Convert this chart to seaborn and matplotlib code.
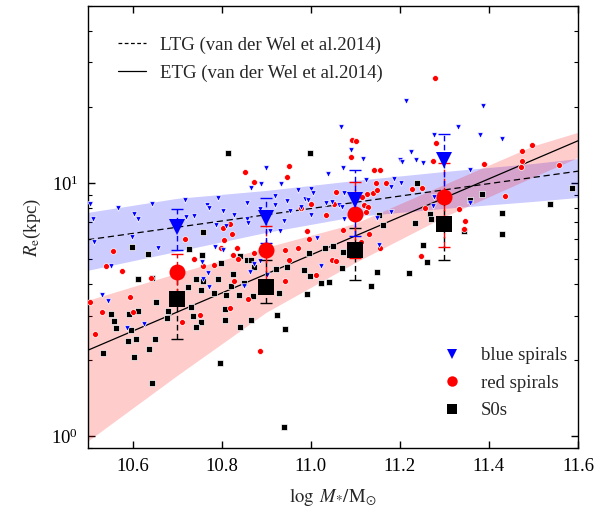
import numpy as np
import pandas as pd
import matplotlib
matplotlib.use("Agg")
import matplotlib.pyplot as plt
from matplotlib.lines import Line2D
from matplotlib.ticker import LogLocator, FixedLocator, NullFormatter
import seaborn as sns

# ---------------------------------------------------------------- data
# individual galaxies: log stellar mass and log effective radius (kpc)
blue_logm = [10.899, 10.888, 10.867, 10.934, 10.972, 11.001, 11.005, 11.038, 10.947, 10.919,
             10.919, 10.856, 10.792, 10.718, 10.644, 10.567, 10.504, 10.767, 10.772, 10.988,
             10.993, 11.035, 11.048, 11.214, 11.386, 11.069, 11.331, 11.276, 11.381, 11.429,
             11.091, 11.118, 11.225, 11.200, 11.204, 11.237, 11.251, 11.072, 11.358, 11.124,
             11.188, 11.180, 11.203, 11.075, 11.276, 11.274, 11.358, 11.063, 10.604, 10.612,
             10.511, 10.513, 10.599, 10.657, 10.720, 10.737, 10.802, 10.787, 10.809, 10.828,
             10.858, 10.859, 10.887, 10.908, 10.931, 10.941, 10.953, 10.979, 11.001, 11.014,
             10.785, 10.802, 10.551, 10.755, 10.770, 10.759, 10.873, 10.886, 10.864, 10.851,
             10.902, 11.022, 10.531, 10.771, 10.545, 10.588, 10.625, 11.071, 11.148, 11.180,
             11.153, 11.075]
blue_logre = [1.061, 0.995, 0.980, 0.995, 0.971, 0.978, 0.961, 1.038, 0.928, 0.948,
              0.915, 0.921, 0.943, 0.932, 0.919, 0.900, 0.919, 0.915, 0.900, 0.939,
              0.932, 0.923, 0.925, 1.325, 1.305, 1.221, 1.223, 1.192, 1.192, 1.173,
              1.132, 1.096, 1.124, 1.093, 1.082, 1.092, 1.078, 1.059, 1.053, 1.011,
              1.015, 0.984, 0.999, 0.961, 0.945, 0.911, 0.921, 0.912, 0.879, 0.857,
              0.857, 0.768, 0.787, 0.744, 0.866, 0.870, 0.889, 0.833, 0.831, 0.873,
              0.860, 0.844, 0.899, 0.810, 0.811, 0.849, 0.892, 0.905, 0.876, 0.783,
              0.748, 0.735, 0.672, 0.689, 0.645, 0.621, 0.682, 0.693, 0.649, 0.592,
              0.636, 0.673, 0.560, 0.588, 0.534, 0.430, 0.443, 0.905, 0.862, 0.886,
              0.755, 0.860]

red_logm = [10.852, 10.873, 10.952, 10.946, 11.057, 11.000, 10.978, 11.053, 11.093, 11.101,
            11.282, 11.090, 11.142, 11.155, 11.274, 11.388, 11.474, 11.496, 11.474, 11.473,
            11.557, 11.147, 11.168, 11.127, 11.139, 11.149, 11.227, 11.250, 11.114, 11.119,
            11.129, 11.437, 11.332, 10.718, 10.804, 10.819, 10.824, 10.806, 10.798, 10.834,
            10.826, 10.783, 10.739, 10.759, 10.556, 10.576, 10.540, 10.642, 10.942, 10.952,
            10.972, 10.992, 10.996, 11.034, 11.048, 11.057, 11.012, 10.943, 10.828, 10.859,
            10.818, 10.752, 10.712, 10.601, 10.504, 10.531, 10.595, 10.837, 10.873, 10.515,
            10.886, 11.347, 11.345, 11.248, 11.155, 11.131, 11.113, 11.072, 11.124, 11.257,
            11.279]
red_logre = [1.045, 1.004, 1.067, 1.026, 0.966, 0.916, 0.903, 0.916, 1.172, 1.168,
             1.158, 1.105, 1.050, 1.050, 1.086, 1.075, 1.125, 1.150, 1.087, 1.063,
             1.070, 0.999, 1.002, 0.959, 0.962, 0.971, 0.976, 0.979, 0.945, 0.912,
             0.905, 0.948, 0.896, 0.781, 0.823, 0.840, 0.801, 0.774, 0.742, 0.744,
             0.715, 0.676, 0.702, 0.673, 0.731, 0.653, 0.671, 0.627, 0.735, 0.698,
             0.744, 0.811, 0.781, 0.873, 0.695, 0.692, 0.636, 0.613, 0.614, 0.541,
             0.508, 0.479, 0.452, 0.492, 0.531, 0.492, 0.551, 0.702, 0.726, 0.404,
             0.337, 0.850, 0.820, 0.712, 0.744, 0.798, 0.768, 0.816, 0.886, 0.902,
             1.414]

s0_logm = [10.815, 10.998, 11.238, 11.384, 11.358, 11.587, 11.537, 10.598, 10.634, 10.759,
           10.727, 10.757, 10.612, 10.644, 10.724, 10.742, 10.759, 10.791, 10.798, 10.826,
           10.841, 10.856, 10.867, 10.873, 10.820, 10.809, 10.838, 10.871, 10.783, 10.753,
           10.731, 10.735, 10.808, 10.850, 10.923, 10.946, 10.986, 10.996, 11.031, 11.050,
           10.999, 11.022, 11.040, 10.992, 10.929, 10.613, 10.591, 10.552, 10.558, 10.653,
           10.680, 10.677, 10.753, 10.807, 10.865, 10.925, 10.563, 10.597, 10.589, 10.607,
           10.650, 10.636, 10.534, 10.603, 10.644, 10.742, 10.841, 10.943, 10.796, 10.940,
           11.154, 11.162, 11.235, 11.267, 11.271, 11.430, 11.430, 11.344, 11.251, 11.262,
           11.149, 11.220, 11.135, 11.071, 11.073]
s0_logre = [1.120, 1.118, 1.000, 0.958, 0.932, 0.980, 0.919, 0.749, 0.722, 0.807,
            0.739, 0.718, 0.623, 0.626, 0.590, 0.623, 0.613, 0.623, 0.686, 0.643,
            0.712, 0.698, 0.698, 0.667, 0.592, 0.558, 0.558, 0.555, 0.568, 0.577,
            0.511, 0.476, 0.505, 0.604, 0.660, 0.669, 0.656, 0.724, 0.744, 0.751,
            0.634, 0.604, 0.608, 0.564, 0.568, 0.495, 0.485, 0.485, 0.456, 0.531,
            0.496, 0.466, 0.452, 0.459, 0.459, 0.479, 0.430, 0.420, 0.378, 0.383,
            0.384, 0.344, 0.330, 0.312, 0.210, 0.431, 0.433, 0.424, 0.288, 0.037,
            0.876, 0.836, 0.842, 0.877, 0.860, 0.882, 0.798, 0.811, 0.757, 0.689,
            0.649, 0.645, 0.593, 0.663, 0.728]

# binned medians with error bars (kpc)
bin_logm = [10.7, 10.9, 11.1, 11.3]
blue_med = [6.69, 7.28, 8.55, 12.29]
blue_err_lo = [1.24, 1.48, 2.37, 3.30]
blue_err_hi = [1.24, 1.48, 2.74, 3.30]
red_med = [4.46, 5.43, 7.57, 8.81]
red_err_lo = [0.81, 1.32, 2.52, 3.20]
red_err_hi = [0.81, 1.32, 2.52, 3.20]
s0_med = [3.50, 3.89, 5.43, 6.92]
s0_err_lo = [1.08, 0.54, 1.29, 1.96]
s0_err_hi = [1.08, 1.07, 1.22, 1.96]

# van der Wel et al. (2014) size-mass relations and their uncertainty bands
rel_logm = [10.5, 11.6]
ltg_re = [5.98, 11.15]
etg_re = [2.19, 14.7]
band_logm = [10.5, 10.7, 10.9, 11.1, 11.3, 11.5, 11.6]
ltg_band_lo = [4.53, 5.38, 6.39, 7.39, 7.95, 8.47, 8.78]
ltg_band_hi = [7.67, 8.71, 9.36, 10.25, 11.12, 11.96, 12.51]
etg_band_lo = [0.96, 1.74, 3.09, 4.86, 7.37, 10.59, 12.63]
etg_band_hi = [3.45, 4.41, 5.58, 6.94, 9.89, 14.05, 15.88]

x_ticks = [10.6, 10.8, 11.0, 11.2, 11.4, 11.6]
x_tick_labels = ["10.6", "10.8", "11.0", "11.2", "11.4", "11.6"]

# ---------------------------------------------------------------- style
sns.set_theme(style="ticks")
plt.rcParams["font.family"] = ["Liberation Serif", "DejaVu Serif"]
plt.rcParams["mathtext.fontset"] = "stix"
plt.rcParams["axes.linewidth"] = 1.0
FS = 13.5

BLUE = "#0000ff"
RED = "#ff0000"
BLACK = "#000000"

fig = plt.figure(figsize=(6.11, 5.11), dpi=100)
ax = fig.add_axes([0.144, 0.1233, 0.802, 0.8647])

# uncertainty bands
ax.fill_between(band_logm, ltg_band_lo, ltg_band_hi, color=BLUE, alpha=0.2, lw=0, zorder=1)
ax.fill_between(band_logm, etg_band_lo, etg_band_hi, color=RED, alpha=0.2, lw=0, zorder=1)

# relations
ax.plot(rel_logm, ltg_re, color=BLACK, lw=0.9, ls=(0, (5, 3)), zorder=2)
ax.plot(rel_logm, etg_re, color=BLACK, lw=0.9, ls="-", zorder=2)

# individual galaxies
pts = pd.concat([
    pd.DataFrame({"logm": blue_logm, "re": 10 ** np.array(blue_logre), "type": "blue spirals"}),
    pd.DataFrame({"logm": red_logm, "re": 10 ** np.array(red_logre), "type": "red spirals"}),
    pd.DataFrame({"logm": s0_logm, "re": 10 ** np.array(s0_logre), "type": "S0s"}),
], ignore_index=True)
palette = {"blue spirals": BLUE, "red spirals": RED, "S0s": BLACK}
markers = {"blue spirals": "v", "red spirals": "o", "S0s": "s"}
sizes = {"blue spirals": 16, "red spirals": 18, "S0s": 16}
for kind in ["S0s", "red spirals", "blue spirals"]:
    sub = pts[pts["type"] == kind]
    sns.scatterplot(data=sub, x="logm", y="re", color=palette[kind], marker=markers[kind],
                    s=sizes[kind], edgecolor="white", linewidth=0.5, ax=ax, legend=False,
                    zorder=3)

# binned medians with error bars
def binned(med, lo, hi, color, marker):
    eb = ax.errorbar(bin_logm, med, yerr=[lo, hi], fmt="none", ecolor=color,
                     elinewidth=1.0, capsize=4.6, capthick=1.0, zorder=4)
    for ln in eb[2]:
        ln.set_linestyle((0, (4, 2.5)))
    ax.plot(bin_logm, med, ls="none", marker=marker, ms=11.5, color=color,
            markeredgewidth=0, zorder=5)

binned(s0_med, s0_err_lo, s0_err_hi, BLACK, "s")
binned(red_med, red_err_lo, red_err_hi, RED, "o")
binned(blue_med, blue_err_lo, blue_err_hi, BLUE, "v")

# ---------------------------------------------------------------- axes
ax.set_yscale("log")
ax.set_xlim(10.5, 11.6)
ax.set_ylim(0.9, 50)
ax.xaxis.set_major_locator(FixedLocator(x_ticks))
ax.set_xticklabels(x_tick_labels)
ax.yaxis.set_major_locator(LogLocator(base=10, numticks=10))
ax.yaxis.set_minor_locator(LogLocator(base=10, subs=np.arange(2, 10), numticks=20))
ax.yaxis.set_minor_formatter(NullFormatter())
ax.tick_params(axis="both", which="both", direction="in", top=True, right=True,
               labelsize=FS, colors=BLACK)
ax.tick_params(axis="both", which="major", length=5, width=1.0, pad=7)
ax.tick_params(axis="y", which="minor", length=3, width=0.8)
ax.tick_params(axis="x", which="minor", bottom=False, top=False)
for sp in ax.spines.values():
    sp.set_color(BLACK)

ax.set_xlabel(r"$\log\ M_{*}/\mathrm{M}_{\odot}$", fontsize=FS, labelpad=8)
ax.set_ylabel(r"$R_{\rm e}$(kpc)", fontsize=FS, labelpad=6)

# legends
rel_handles = [Line2D([], [], color=BLACK, lw=0.9, ls=(0, (3, 2))),
               Line2D([], [], color=BLACK, lw=0.9, ls="-")]
leg1 = ax.legend(rel_handles, ["LTG (van der Wel et al.2014)", "ETG (van der Wel et al.2014)"],
                 loc="upper left", bbox_to_anchor=(0.062, 0.931), frameon=False,
                 fontsize=FS, borderpad=0, borderaxespad=0, handlelength=1.45,
                 handletextpad=0.75, labelspacing=0.55)
ax.add_artist(leg1)

type_handles = [Line2D([], [], ls="none", marker="v", ms=7.5, color=BLUE, markeredgewidth=0),
                Line2D([], [], ls="none", marker="o", ms=7.5, color=RED, markeredgewidth=0),
                Line2D([], [], ls="none", marker="s", ms=7, color=BLACK, markeredgewidth=0)]
ax.legend(type_handles, ["blue spirals", "red spirals", "S0s"],
          loc="upper left", bbox_to_anchor=(0.7245, 0.228), frameon=False,
          fontsize=FS, borderpad=0, borderaxespad=0, handlelength=1.0,
          handletextpad=1.0, labelspacing=0.55)

fig.savefig("out.png", dpi=100)
